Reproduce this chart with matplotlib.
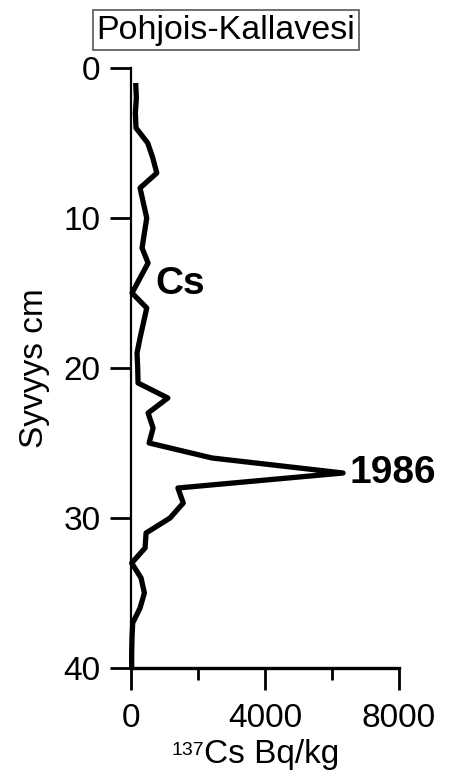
import matplotlib
matplotlib.use("Agg")
import matplotlib.pyplot as plt
from matplotlib.ticker import MultipleLocator

plt.rcParams['font.family'] = ['Liberation Sans', 'DejaVu Sans']

# 137Cs activity profile by sediment depth
depth_cm = [1, 2, 3, 4, 5, 6, 7, 8, 9, 10,
            11, 12, 13, 14, 15, 16, 17, 18, 19, 20,
            21, 22, 23, 24, 25, 26, 27, 28, 29, 30,
            31, 32, 33, 34, 35, 36, 37, 38, 39, 40]
cs137_bq_kg = [140, 160, 130, 150, 500, 650, 770, 270, 370, 470,
               400, 330, 510, 270, 30, 470, 370, 270, 180, 200,
               210, 1100, 510, 660, 540, 2420, 6330, 1400, 1560, 1165,
               450, 420, 20, 300, 400, 270, 50, 30, 20, 20]

title = "Pohjois-Kallavesi"
series_label = "Cs"
peak_label = "1986"
peak_index = cs137_bq_kg.index(max(cs137_bq_kg))

W, H = 450, 772
fig = plt.figure(figsize=(W / 100, H / 100), dpi=100)
ax = fig.add_axes([131 / W, 1 - 668 / H, (399 - 131) / W, (668 - 68) / H])

ax.plot(cs137_bq_kg, depth_cm, color='black', lw=3.8,
        solid_joinstyle='round', solid_capstyle='butt', clip_on=False, zorder=3)

ax.set_xlim(0, 8000)
ax.set_ylim(40, 0)
ax.set_xticks([0, 4000, 8000])
ax.xaxis.set_minor_locator(MultipleLocator(2000))
ax.set_yticks([0, 10, 20, 30, 40])

for side in ('top', 'right'):
    ax.spines[side].set_visible(False)
ax.spines['left'].set_linewidth(1.6)
ax.spines['bottom'].set_linewidth(2.4)

ax.tick_params(axis='x', which='major', direction='out', length=16, width=2,
               labelsize=24, pad=9)
ax.tick_params(axis='x', which='minor', direction='out', length=8.5, width=2)
ax.tick_params(axis='y', which='major', direction='out', length=15, width=2,
               labelsize=24, pad=7)

# x-axis title: isotope mass number as a raised prefix, then the unit text
fig.text(204 / W, 1 - 755 / H, '137', fontsize=14, ha='right', va='baseline')
fig.text(204 / W, 1 - 763 / H, 'Cs Bq/kg', fontsize=24, ha='left',
         va='baseline')
fig.text(35 / W, 1 - 368 / H, 'Syvyys cm', fontsize=24, rotation=90,
         ha='center', va='center')

ax.text(720, 14.4, series_label, fontsize=28, fontweight='bold',
        ha='left', va='center')
ax.text(cs137_bq_kg[peak_index] + 200, depth_cm[peak_index], peak_label,
        fontsize=28, fontweight='bold', ha='left', va='center')

fig.text(226 / W, 1 - 30 / H, title, fontsize=24.5, ha='center', va='center',
         bbox=dict(boxstyle='square,pad=0.12', facecolor='white',
                   edgecolor='#555555', linewidth=1.2))

fig.savefig('out.png', dpi=100)
